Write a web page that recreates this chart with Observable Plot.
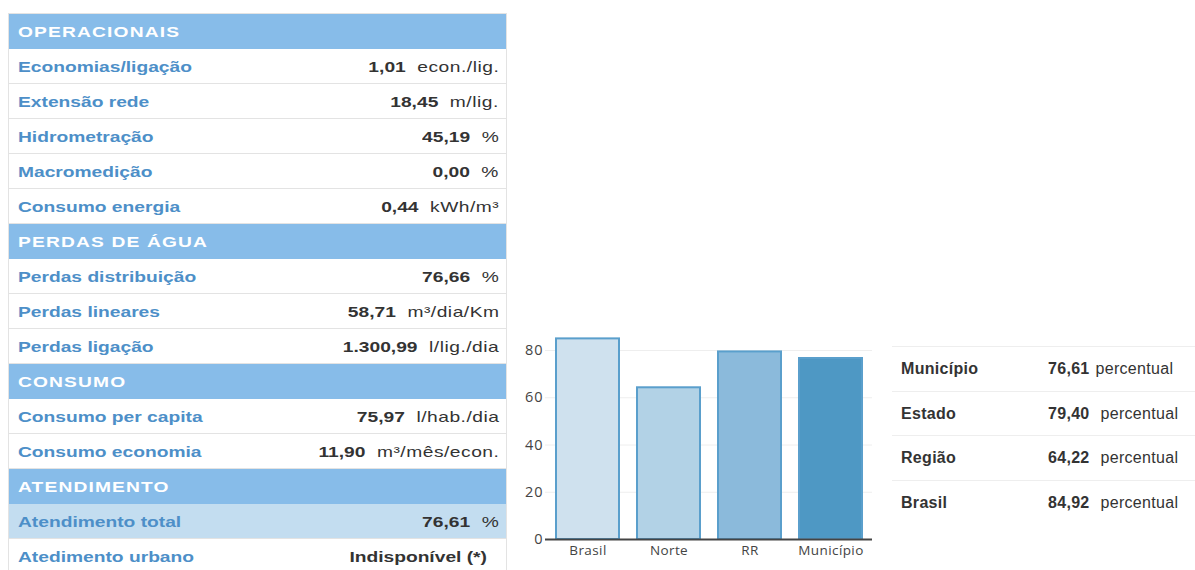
<!DOCTYPE html>
<html><head><meta charset="utf-8">
<script src="https://cdn.jsdelivr.net/npm/d3@7"></script>
<script src="https://cdn.jsdelivr.net/npm/@observablehq/plot@0.6"></script>
<style>
html,body{margin:0;padding:0;background:#fff;width:1195px;height:570px;overflow:hidden;}
#left{position:absolute;left:8px;top:13px;width:499px;border-top:1px solid #e3e3e3;border-left:1px solid #e3e3e3;border-right:1px solid #e3e3e3;box-sizing:border-box;font-family:"Liberation Sans",Arial,sans-serif;font-size:15px;}
.row{height:35px;display:flex;align-items:center;justify-content:space-between;box-sizing:border-box;border-bottom:1px solid #e3e3e3;padding:0 7px 0 9px;white-space:nowrap;}
.sx{display:inline-block;transform:scaleX(1.28);}
.hdr{background:#87bce9;color:#fff;font-weight:bold;border-bottom:none;}
.hdr .sx{letter-spacing:0.9px;transform-origin:left center;}
.lbl{color:#4d8fc8;font-weight:bold;transform-origin:left center;}
.val{transform-origin:right center;}
.num{color:#333;font-weight:bold;}
.unit{color:#333;letter-spacing:0.4px;margin-left:9px;}
.hl{background:#c3ddf0;}
.na{margin-right:9px;}
#chart{position:absolute;left:510px;top:320px;}
#right{position:absolute;left:892px;top:346px;width:303px;font-family:"Liberation Sans",Arial,sans-serif;font-size:16px;color:#333;letter-spacing:0.3px;}
.rrow{height:44.7px;border-top:1px solid #eee;display:flex;align-items:center;box-sizing:border-box;padding-left:9px;white-space:nowrap;}
.rlbl{font-weight:bold;width:147px;}
.rnum{font-weight:bold;}
.runit{margin-left:11px;}
</style>
</head><body>
<div id="left"></div>
<div id="chart"></div>
<div id="right"></div>
<script>
// ---- Left table data ----
const operacionais = [
  ["Economias/ligação", "1,01", "econ./lig."],
  ["Extensão rede", "18,45", "m/lig."],
  ["Hidrometração", "45,19", "%"],
  ["Macromedição", "0,00", "%"],
  ["Consumo energia", "0,44", "kWh/m³"]
];
const perdasDeAgua = [
  ["Perdas distribuição", "76,66", "%"],
  ["Perdas lineares", "58,71", "m³/dia/Km"],
  ["Perdas ligação", "1.300,99", "l/lig./dia"]
];
const consumo = [
  ["Consumo per capita", "75,97", "l/hab./dia"],
  ["Consumo economia", "11,90", "m³/mês/econ."]
];
const atendimento = [
  ["Atendimento total", "76,61", "%"],
  ["Atedimento urbano", "Indisponível (*)", ""]
];
const sectionTitles = ["OPERACIONAIS", "PERDAS DE ÁGUA", "CONSUMO", "ATENDIMENTO"];
const sectionRows = [operacionais, perdasDeAgua, consumo, atendimento];

// ---- Bar chart data ----
const barCategories = ["Brasil", "Norte", "RR", "Município"];
const barValues = [84.92, 64.22, 79.40, 76.61];
const yTicks = [0, 20, 40, 60, 80];

// ---- Right table data ----
const compLabels = ["Município", "Estado", "Região", "Brasil"];
const compValues = ["76,61", "79,40", "64,22", "84,92"];
const compUnit = "percentual";

// styles
const barFills = ["#cfe1ee", "#b2d2e6", "#8bbadb", "#4e98c4"];

// Build left table
const left = document.getElementById("left");
sectionTitles.forEach((t, si) => {
  const h = document.createElement("div");
  h.className = "row hdr";
  const hs = document.createElement("span");
  hs.className = "sx"; hs.textContent = t;
  h.appendChild(hs);
  left.appendChild(h);
  sectionRows[si].forEach(([lab, val, unit]) => {
    const r = document.createElement("div");
    r.className = "row" + (lab === "Atendimento total" ? " hl" : "");
    const l = document.createElement("span");
    l.className = "sx lbl"; l.textContent = lab;
    const v = document.createElement("span");
    v.className = "sx val";
    const n = document.createElement("span");
    n.className = "num" + (unit === "" ? " na" : ""); n.textContent = val;
    v.appendChild(n);
    if (unit) {
      const u = document.createElement("span");
      u.className = "unit"; u.textContent = unit;
      v.appendChild(u);
    }
    r.appendChild(l); r.appendChild(v);
    left.appendChild(r);
  });
});

// Bar chart
const bars = barCategories.map((c, i) => ({cat: c, val: barValues[i], fill: barFills[i]}));
const chart = Plot.plot({
  width: 370, height: 250,
  marginLeft: 35, marginRight: 8, marginTop: 6, marginBottom: 31,
  style: {fontFamily: "'Open Sans', sans-serif", fontSize: "13.5px", color: "#444", background: "transparent", overflow: "visible", letterSpacing: "0.4px"},
  x: {domain: barCategories, paddingInner: 0.2, paddingOuter: 0.1, label: null},
  y: {domain: [0, 90.16], label: null},
  color: {type: "identity"},
  marks: [
    Plot.gridY(yTicks.filter(t => t > 0), {stroke: "#eee", strokeOpacity: 1}),
    Plot.barY(bars, {x: "cat", y: "val", fill: "fill", stroke: "#5a9fcc", strokeWidth: 2, insetLeft: 1, insetRight: 1}),
    Plot.ruleY([0], {stroke: "#444", strokeWidth: 2}),
    Plot.axisY({ticks: yTicks, tickSize: 0, tickPadding: 2, fontSize: 14.5, label: null}),
    Plot.axisX({tickSize: 0, tickPadding: 6, label: null})
  ]
});
d3.select(chart).selectAll('g[aria-label="y-axis tick label"] text').attr("letter-spacing", "1px");
document.getElementById("chart").appendChild(chart);

// Right table
const right = document.getElementById("right");
compLabels.forEach((lab, i) => {
  const r = document.createElement("div");
  r.className = "rrow";
  const l = document.createElement("span");
  l.className = "rlbl"; l.textContent = lab;
  const n = document.createElement("span");
  n.className = "rnum"; n.textContent = compValues[i];
  const u = document.createElement("span");
  u.className = "runit"; u.textContent = compUnit;
  if (i === 0) u.style.marginLeft = "6px";
  r.appendChild(l); r.appendChild(n); r.appendChild(u);
  right.appendChild(r);
});
</script>
</body></html>
